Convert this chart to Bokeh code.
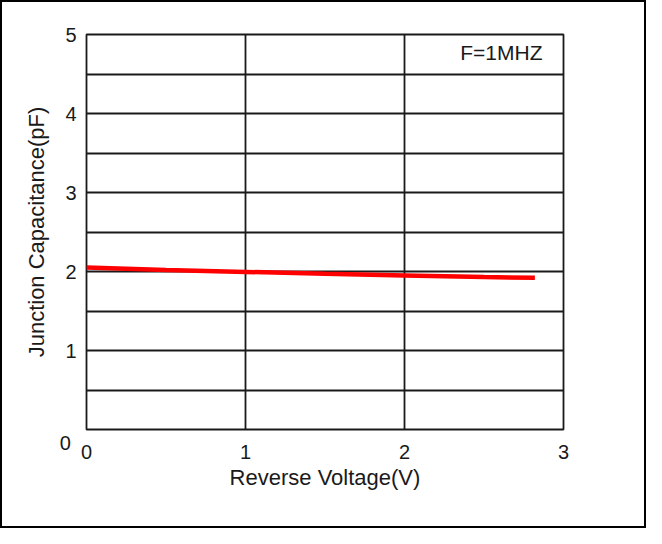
from bokeh.plotting import figure
from bokeh.embed import file_html
from bokeh.resources import INLINE
from bokeh.models import FixedTicker, Range1d, Label

# data
voltage = [0.0, 0.5, 1.0, 1.5, 2.0, 2.5, 2.82]
capacitance = [2.05, 2.02, 1.995, 1.97, 1.95, 1.93, 1.92]
x_ticks = [0, 1, 2, 3]
y_ticks = [0, 1, 2, 3, 4, 5]
y_grid = [0.5, 1, 1.5, 2, 2.5, 3, 3.5, 4, 4.5]
note = "F=1MHZ"

FONT = "Liberation Sans"
INK = "#1a1a1a"

p = figure(width=646, height=528, output_backend="svg", toolbar_location=None,
           x_range=Range1d(0, 3), y_range=Range1d(0, 5),
           min_border_left=84, min_border_right=85, min_border_top=32, min_border_bottom=101)
p.styles = {"border": "2px solid black", "box-sizing": "border-box"}

p.outline_line_color = INK
p.outline_line_width = 1.8
p.outline_line_alpha = 1

p.xgrid.ticker = FixedTicker(ticks=[1, 2])
p.ygrid.ticker = FixedTicker(ticks=y_grid)
for g in (p.xgrid, p.ygrid):
    g.grid_line_color = INK
    g.grid_line_width = 1.8
    g.grid_line_alpha = 1

p.xaxis.ticker = FixedTicker(ticks=x_ticks)
p.yaxis.ticker = FixedTicker(ticks=y_ticks)
# the y-axis zero sits lower and further left in the original
p.yaxis.major_label_overrides = {0: "\n0 "}
for ax in (p.xaxis, p.yaxis):
    ax.axis_line_color = None
    ax.major_tick_line_color = None
    ax.minor_tick_line_color = None
    ax.major_tick_out = 0
    ax.major_tick_in = 0
    ax.major_label_text_font = FONT
    ax.major_label_text_font_size = "20px"
    ax.major_label_text_color = INK
    ax.axis_label_text_font = FONT
    ax.axis_label_text_font_size = "22px"
    ax.axis_label_text_font_style = "normal"
    ax.axis_label_text_color = INK

p.xaxis.axis_label = "Reverse Voltage(V)"
p.yaxis.axis_label = "Junction Capacitance(pF)"
p.xaxis.major_label_standoff = 15
p.yaxis.major_label_standoff = 10
p.xaxis.axis_label_standoff = 3
p.yaxis.axis_label_standoff = 8

p.line(voltage, capacitance, line_color="#ff0000", line_width=4.5)

p.add_layout(Label(x=3, y=5, text=note, x_offset=-21, y_offset=-18,
                   text_font=FONT, text_font_size="21px", text_color=INK,
                   text_align="right", text_baseline="middle"))

open("out.html", "w").write(file_html(p, INLINE))
